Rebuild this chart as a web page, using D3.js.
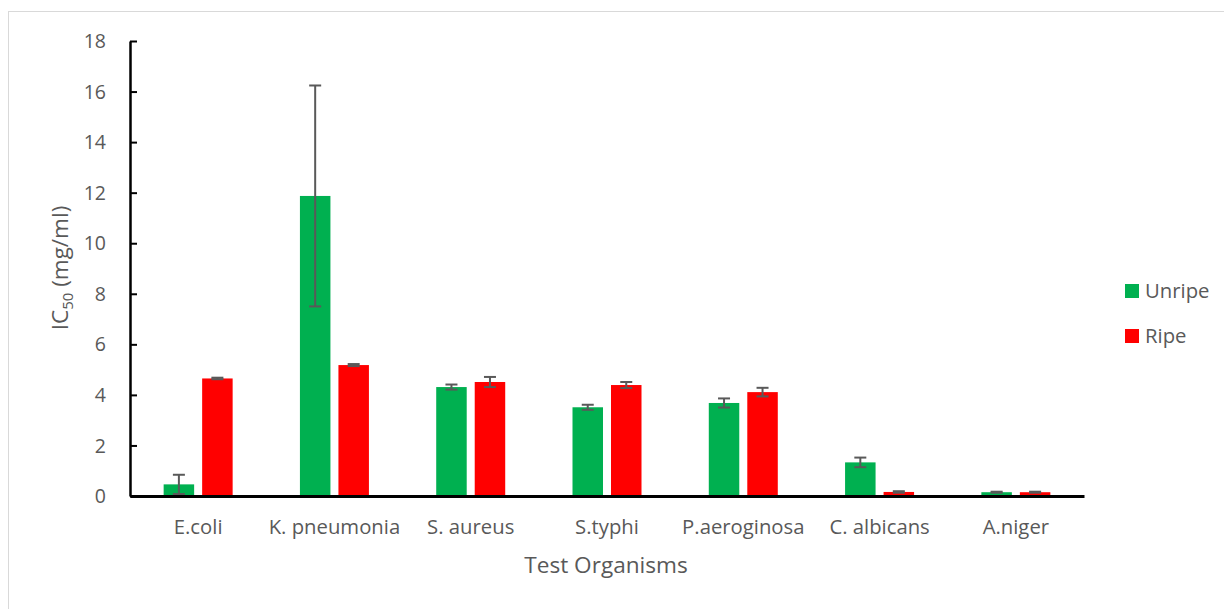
<!DOCTYPE html>
<html>
<head>
<meta charset="utf-8">
<script src="https://cdn.jsdelivr.net/npm/d3@7"></script>
<style>
  html, body { margin: 0; padding: 0; background: #fff; }
  svg text { font-family: "Open Sans", "Noto Sans", sans-serif; fill: #595959; }
</style>
</head>
<body>
<svg id="chart" width="1224" height="609"></svg>
<script>
// IC50 values (mg/ml) per test organism, with standard deviation
const organisms = ["E.coli", "K. pneumonia", "S. aureus", "S.typhi", "P.aeroginosa", "C. albicans", "A.niger"];
const seriesNames = ["Unripe", "Ripe"];
const unripe = [0.46, 11.87, 4.31, 3.51, 3.68, 1.33, 0.15];
const unripeErr = [0.38, 4.37, 0.10, 0.10, 0.18, 0.19, 0.02];
const ripe = [4.65, 5.18, 4.51, 4.39, 4.11, 0.16, 0.15];
const ripeErr = [0.03, 0.04, 0.20, 0.12, 0.17, 0.03, 0.02];
const yTicks = [0, 2, 4, 6, 8, 10, 12, 14, 16, 18];
const colors = ["#00b050", "#ff0000"];

const svg = d3.select("#chart");

// outer frame
svg.append("rect")
  .attr("x", 8.5).attr("y", 11.5)
  .attr("width", 1240).attr("height", 620)
  .attr("fill", "none").attr("stroke", "#d9d9d9").attr("stroke-width", 1);

const plotL = 130, plotR = 1084, plotT = 41, plotB = 496;

const x0 = d3.scaleBand().domain(organisms).range([plotL, plotR]).paddingInner(0).paddingOuter(0);
const x1 = d3.scaleBand().domain(seriesNames).range([0, 69]).paddingInner(0.208);
const y = d3.scaleLinear().domain([0, 18]).range([plotB, plotT]);

const rows = organisms.map((name, i) => ({
  name,
  values: [
    { s: "Unripe", v: unripe[i], e: unripeErr[i], c: colors[0] },
    { s: "Ripe", v: ripe[i], e: ripeErr[i], c: colors[1] }
  ]
}));

// bars
const groups = svg.append("g").selectAll("g").data(rows).join("g")
  .attr("transform", d => `translate(${x0(d.name) + x0.bandwidth() / 2 - 34.5},0)`);

groups.selectAll("rect").data(d => d.values).join("rect")
  .attr("x", d => x1(d.s))
  .attr("y", d => y(d.v))
  .attr("width", x1.bandwidth())
  .attr("height", d => y(0) - y(d.v))
  .attr("fill", d => d.c);

// error bars
const eb = groups.selectAll("g.err").data(d => d.values).join("g").attr("class", "err");
eb.append("line")
  .attr("x1", d => x1(d.s) + x1.bandwidth() / 2)
  .attr("x2", d => x1(d.s) + x1.bandwidth() / 2)
  .attr("y1", d => y(d.v + d.e))
  .attr("y2", d => y(Math.max(0, d.v - d.e)))
  .attr("stroke", "#595959").attr("stroke-width", 2);
[1, -1].forEach(sign => {
  eb.append("line")
    .attr("x1", d => x1(d.s) + x1.bandwidth() / 2 - 6)
    .attr("x2", d => x1(d.s) + x1.bandwidth() / 2 + 6)
    .attr("y1", d => y(Math.max(0, d.v + sign * d.e)))
    .attr("y2", d => y(Math.max(0, d.v + sign * d.e)))
    .attr("stroke", "#595959").attr("stroke-width", 2);
});

// y axis with inside ticks
const yAxis = svg.append("g").attr("transform", `translate(${plotL},0)`)
  .call(d3.axisLeft(y).tickValues(yTicks).tickSize(-7).tickPadding(24).tickSizeOuter(0));
yAxis.select(".domain").attr("stroke", "#000").attr("stroke-width", 2.5);
yAxis.selectAll(".tick line").attr("stroke", "#000").attr("stroke-width", 2);
yAxis.selectAll(".tick text")
  .style("font-size", "19.5px").attr("fill", "#595959").attr("dy", "0.34em");

// x axis
const xAxis = svg.append("g").attr("transform", `translate(0,${plotB})`)
  .call(d3.axisBottom(x0).tickSize(0).tickPadding(0));
xAxis.select(".domain").attr("stroke", "#000").attr("stroke-width", 3);
xAxis.selectAll(".tick text")
  .style("font-size", "20.3px").attr("fill", "#595959")
  .attr("dy", 0).attr("y", 38);

// axis titles
const yt = svg.append("text")
  .attr("transform", `translate(68,268) rotate(-90)`)
  .attr("text-anchor", "middle")
  .style("font-size", "22.5px");
yt.append("tspan").text("IC");
yt.append("tspan").text("50").style("font-size", "15px").attr("dy", 5);
yt.append("tspan").text(" (mg/ml)").attr("dy", -5);

svg.append("text")
  .attr("x", 606).attr("y", 573)
  .attr("text-anchor", "middle")
  .style("font-size", "22.6px")
  .text("Test Organisms");

// legend
const legend = svg.append("g").selectAll("g").data(seriesNames).join("g")
  .attr("transform", (d, i) => `translate(1125,${284 + i * 45})`);
legend.append("rect").attr("width", 14).attr("height", 14).attr("fill", (d, i) => colors[i]);
legend.append("text").attr("x", 20).attr("y", 14).style("font-size", "20.3px").text(d => d);
</script>
</body>
</html>
